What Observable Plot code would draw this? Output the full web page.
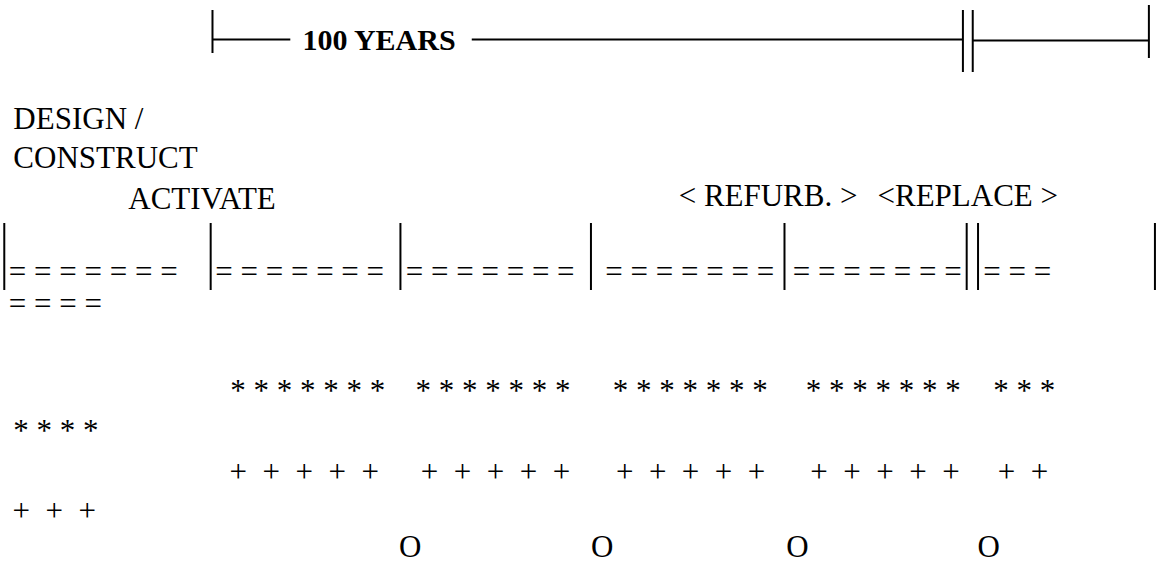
<!DOCTYPE html>
<html><head><meta charset="utf-8">
<script src="https://cdn.jsdelivr.net/npm/d3@7"></script>
<script src="https://cdn.jsdelivr.net/npm/@observablehq/plot@0.6"></script>
<style>html,body{margin:0;padding:0;background:#fff}svg{display:block}</style>
</head><body><div id="chart"></div>
<script>
// ---------- data (x values in years along the life-cycle timeline) ----------
const spanLabel = "100 YEARS";
const spanLabelStart = 12.15;
const bracketEnds = [0.24, 124.1];          // outer ends of the top bracket
const bracketBreak = [99.5, 100.8];         // the "||" break at 100 years
const bracketGap = [10.6, 34.6];            // gap in the line around the label

const phaseNames = ["DESIGN /", "CONSTRUCT", "ACTIVATE", "< REFURB. >", "<REPLACE >"];
const phaseStart = [-26.1, -26.1, -10.9, 61.9, 88.2];
const phaseRow   = ["design", "construct", "activate", "refurb", "refurb"];

const periodBoundaries = [-27.3, 0, 25.1, 50.3, 75.9, 100.0, 101.5, 124.9];

const eqStrings = ["= = = = = = =", "= = = = = = =", "= = = = = = =", "= = = = = = =", "= = = = = = =", "= = =", "= = = ="];
const eqStart   = [-26.7, 0.6, 25.8, 52.2, 77.0, 102.2, -26.7];
const eqRow     = ["eq", "eq", "eq", "eq", "eq", "eq", "eq2"];

const starStrings = ["* * * * * * *", "* * * * * * *", "* * * * * * *", "* * * * * * *", "* * *", "* * * *"];
const starStart   = [2.6, 27.1, 53.2, 78.7, 103.5, -26.1];
const starRow     = ["star", "star", "star", "star", "star", "star2"];

const plusStrings = ["+  +  +  +  +", "+  +  +  +  +", "+  +  +  +  +", "+  +  +  +  +", "+  +", "+  +  +"];
const plusStart   = [2.5, 27.8, 53.6, 79.3, 104.1, -26.2];
const plusRow     = ["plus", "plus", "plus", "plus", "plus", "plus2"];

const oYears = [26.4, 51.8, 77.6, 102.9];

// ---------- layout ----------
const W = 1162, H = 564;
const NB = "\u00A0";
const rowY = {bracket: 39, bracketR: 40, label: 49, design: 128, construct: 167, activate: 208, refurb: 205,
  eq: 281, eq2: 313, star: 400, star2: 440, plus: 481, plus2: 520, o: 556};
const ink = "#000";
const font = "Liberation Serif, Times New Roman, serif";
const fs = 31;
const nb = s => s.replace(/ /g, NB);

const textRows = (strings, starts, rows) => strings.map((s, i) => ({x: starts[i], y: rowY[rows[i]], text: nb(s)}));

const topTicks = [
  {x: bracketEnds[0], y1: 10, y2: 53},
  {x: bracketBreak[0], y1: 10, y2: 72},
  {x: bracketBreak[1], y1: 10, y2: 72},
  {x: bracketEnds[1], y1: 5, y2: 58}
];
const topLines = [
  {x1: bracketEnds[0], x2: bracketGap[0], y: rowY.bracket},
  {x1: bracketGap[1], x2: bracketBreak[0], y: rowY.bracket},
  {x1: bracketBreak[1], x2: bracketEnds[1], y: rowY.bracketR}
];
const bars = periodBoundaries.map(x => ({x, y1: 223, y2: 290}));

const txt = (data, extra = {}) => Plot.text(data, {x: "x", y: "y", text: "text", textAnchor: "start", lineAnchor: "bottom",
  fontSize: fs, fontFamily: font, fill: ink, ...extra});

const chart = Plot.plot({
  width: W, height: H,
  margin: 0,
  x: {domain: [-27.8, 125.9], range: [0, W], axis: null},
  y: {domain: [0, H], range: [0, H], axis: null},
  style: {background: "#fff"},
  marks: [
    Plot.ruleX(topTicks, {x: "x", y1: "y1", y2: "y2", stroke: ink, strokeWidth: 2}),
    Plot.ruleY(topLines, {y: "y", x1: "x1", x2: "x2", stroke: ink, strokeWidth: 2}),
    txt([{x: spanLabelStart, y: rowY.label, text: spanLabel}], {fontWeight: "bold", fontSize: 30}),
    txt(phaseNames.map((t, i) => ({x: phaseStart[i], y: rowY[phaseRow[i]], text: t}))),
    Plot.ruleX(bars, {x: "x", y1: "y1", y2: "y2", stroke: ink, strokeWidth: 2}),
    txt(textRows(eqStrings, eqStart, eqRow)),
    txt(textRows(starStrings, starStart, starRow)),
    txt(textRows(plusStrings, plusStart, plusRow)),
    Plot.text(oYears, {x: d => d, y: () => rowY.o, text: () => "O", textAnchor: "middle", lineAnchor: "bottom",
      fontSize: fs, fontFamily: font, fill: ink})
  ]
});
document.getElementById("chart").appendChild(chart);
</script>
</body></html>
